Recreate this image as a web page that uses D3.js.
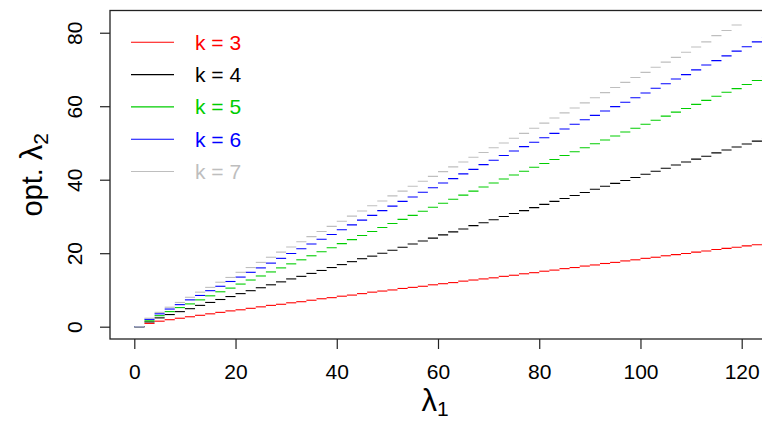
<!DOCTYPE html>
<html>
<head>
<meta charset="utf-8">
<script src="https://cdn.jsdelivr.net/npm/d3@7"></script>
<style>
  body { margin: 0; background: #fff; }
  text { font-family: "Liberation Sans", Arial, sans-serif; }
</style>
</head>
<body>
<svg width="762" height="421"></svg>
<script>
// lambda1 grid (one horizontal step per value)
var lam1 = [0,2,4,6,8,10,12,14,16,18,20,22,24,26,28,30,32,34,36,38,40,42,44,46,48,50,
  52,54,56,58,60,62,64,66,68,70,72,74,76,78,80,82,84,86,88,90,92,94,96,98,100,
  102,104,106,108,110,112,114,116,118,120,122,124];

// optimal lambda2 for each k
var k3 = [0,0.9,1.5,1.9,2.3,2.7,3.1,3.5,3.9,4.3,4.6,5.0,5.4,5.8,6.1,6.5,6.8,7.2,7.6,7.9,
  8.3,8.6,9.0,9.4,9.7,10.0,10.4,10.7,11.0,11.4,11.7,12.0,12.4,12.7,13.0,13.3,13.7,14.0,
  14.4,14.7,15.1,15.4,15.8,16.1,16.5,16.8,17.2,17.5,17.9,18.2,18.6,18.9,19.3,19.6,19.9,
  20.3,20.6,21.0,21.3,21.6,22.0,22.3,22.7];
var k4 = [0,1.3,2.4,3.3,4.1,4.9,5.8,6.6,7.4,8.2,9.0,9.8,10.6,11.4,12.2,13.0,13.7,14.5,
  15.3,16.1,16.9,17.7,18.5,19.2,20.0,20.8,21.6,22.5,23.3,24.1,25.0,25.8,26.6,27.5,28.3,
  29.1,30.0,30.8,31.6,32.4,33.3,34.1,34.9,35.7,36.5,37.4,38.2,39.0,39.8,40.6,41.5,42.3,
  43.1,44.0,44.8,45.6,46.4,47.3,48.1,48.9,49.7,50.5,51.3];
var k5 = [0,1.6,3.0,4.1,5.2,6.2,7.3,8.4,9.5,10.5,11.6,12.7,13.8,14.9,16.0,17.1,18.2,19.3,
  20.4,21.5,22.6,23.7,24.8,25.9,27.0,28.1,29.2,30.3,31.4,32.5,33.6,34.7,35.8,36.9,38.0,
  39.1,40.2,41.3,42.3,43.4,44.4,45.5,46.6,47.6,48.7,49.8,50.8,51.9,53.0,54.0,55.1,56.2,
  57.3,58.4,59.4,60.5,61.6,62.7,63.8,64.8,65.9,67.0,68.1];
var k6 = [0,2.0,3.5,4.8,6.0,7.3,8.5,9.8,11.0,12.3,13.5,14.8,16.0,17.3,18.6,19.9,21.2,22.5,
  23.8,25.1,26.4,27.7,29.0,30.3,31.6,32.8,34.1,35.3,36.6,37.8,39.1,40.3,41.6,42.8,44.1,
  45.3,46.6,47.8,49.0,50.2,51.4,52.6,53.8,55.1,56.3,57.5,58.7,59.9,61.1,62.3,63.6,64.9,
  66.1,67.4,68.6,69.9,71.2,72.4,73.7,75.0,76.2,77.5,78.7];
var k7 = [0,2.3,3.9,5.3,6.6,8.0,9.4,10.7,12.1,13.4,14.8,16.1,17.5,18.9,20.3,21.7,23.1,24.5,
  25.9,27.3,28.7,30.1,31.5,32.9,34.2,35.6,36.9,38.2,39.6,40.9,42.2,43.5,44.8,46.1,47.4,
  48.7,50.0,51.3,52.6,54.0,55.4,56.8,58.2,59.5,60.9,62.3,63.7,65.1,66.5,67.8,69.2,70.6,
  72.0,73.3,74.7,76.1,77.5,79.2,80.6,82.1];

var series = [k3, k4, k5, k6, k7];
var labels = ["k = 3", "k = 4", "k = 5", "k = 6", "k = 7"];
var colors = ["#FF0000", "#000000", "#00CD00", "#0000FF", "#BEBEBE"];
var xTicks = [0, 20, 40, 60, 80, 100, 120];
var yTicks = [0, 20, 40, 60, 80];

var svg = d3.select("svg");
var pLeft = 110, pRight = 766, pTop = 10.5, pBottom = 339;

var x = d3.scaleLinear().domain([-4.8, 124.8]).range([pLeft, pRight]);
var y = d3.scaleLinear().domain([-3.35, 86.05]).range([pBottom, pTop]);

svg.append("clipPath").attr("id", "clip")
  .append("rect").attr("x", pLeft).attr("y", pTop)
  .attr("width", pRight - pLeft).attr("height", pBottom - pTop);

var plot = svg.append("g").attr("clip-path", "url(#clip)");

series.forEach(function(vals, s) {
  var segs = vals.map(function(v, i) {
    var x2 = i + 1 < lam1.length ? lam1[i + 1] : lam1[i] + 2;
    return { x1: lam1[i], x2: x2, y: v };
  });
  plot.append("g").selectAll("line")
    .data(segs)
    .enter().append("line")
    .attr("x1", function(d) { return x(d.x1); })
    .attr("x2", function(d) { return x(d.x2); })
    .attr("y1", function(d) { return y(d.y); })
    .attr("y2", function(d) { return y(d.y); })
    .attr("stroke", colors[s])
    .attr("stroke-width", 1.1);
});

// box
svg.append("rect")
  .attr("x", pLeft).attr("y", pTop)
  .attr("width", pRight - pLeft).attr("height", pBottom - pTop)
  .attr("fill", "none").attr("stroke", "#222").attr("stroke-width", 1.3);

var xAxis = svg.append("g")
  .attr("transform", "translate(0," + pBottom + ")")
  .call(d3.axisBottom(x).tickValues(xTicks).tickSize(10).tickFormat(d3.format("d")));
xAxis.select(".domain").remove();
xAxis.selectAll("line").attr("stroke", "#222").attr("stroke-width", 1.2);
xAxis.selectAll("text")
  .attr("y", 40).attr("dy", 0)
  .attr("font-size", 21).attr("fill", "#000")
  .style("font-family", "'Liberation Sans', Arial, sans-serif");

var yAxis = svg.append("g")
  .attr("transform", "translate(" + pLeft + ",0)")
  .call(d3.axisLeft(y).tickValues(yTicks).tickSize(10).tickFormat(d3.format("d")));
yAxis.select(".domain").remove();
yAxis.selectAll("line").attr("stroke", "#222").attr("stroke-width", 1.2);
yAxis.selectAll("text")
  .attr("transform", "rotate(-90)")
  .attr("x", 0).attr("y", -28).attr("dy", 0)
  .attr("text-anchor", "middle")
  .attr("font-size", 21).attr("fill", "#000")
  .style("font-family", "'Liberation Sans', Arial, sans-serif");

// axis titles
var xl = svg.append("text")
  .attr("x", 435).attr("y", 411)
  .attr("text-anchor", "middle").attr("font-size", 31);
xl.append("tspan").text("λ");
xl.append("tspan").attr("font-size", 21).attr("dy", 5).text("1");

var yl = svg.append("text")
  .attr("transform", "translate(42," + (pTop + pBottom) / 2 + ") rotate(-90)")
  .attr("text-anchor", "middle").attr("font-size", 29);
yl.append("tspan").text("opt. ");
yl.append("tspan").attr("font-size", 31).text("λ");
yl.append("tspan").attr("font-size", 21).attr("dy", 6).text("2");

// legend
var legend = svg.append("g");
labels.forEach(function(lab, i) {
  var ly = 42.3 + i * 32.3;
  legend.append("line")
    .attr("x1", 131).attr("x2", 174)
    .attr("y1", ly).attr("y2", ly)
    .attr("stroke", colors[i]).attr("stroke-width", 1.1);
  legend.append("text")
    .attr("x", 195).attr("y", ly).attr("dy", "0.36em")
    .attr("font-size", 21).attr("fill", colors[i])
    .text(lab);
});
</script>
</body>
</html>
